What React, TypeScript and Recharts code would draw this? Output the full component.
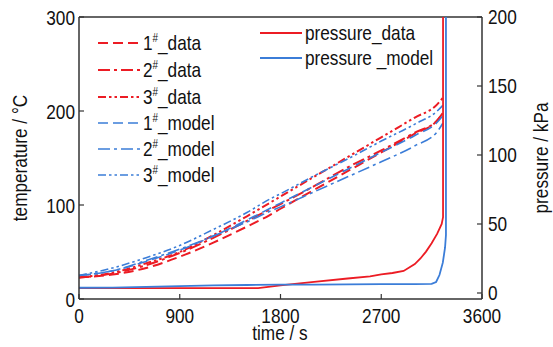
import React from "react";
import {
  LineChart,
  Line,
  XAxis,
  YAxis,
  ReferenceLine,
} from "recharts";

const FONT = '"Liberation Sans", Arial, sans-serif';
const SQUEEZE = 0.82; // the source uses a narrow face
const RED = "#ec1c24";
const BLUE = "#3b7dd8";
const AXIS = "#333";
const INK = "#111";

// temperature curves, time in s
const TEMP_TIME = [0, 300, 600, 900, 1200, 1500, 1700, 1800, 2100, 2400, 2700, 3000, 3200, 3250];
const T1_DATA = [23, 26, 33, 45, 60, 77, 89, 96, 116, 136, 156, 176, 190, 198];
const T2_DATA = [23, 27, 36, 49, 65, 83, 95, 101, 120, 140, 158, 177, 190, 198];
const T3_DATA = [23, 28, 38, 50, 68, 88, 102, 109, 130, 151, 172, 193, 207, 214];
const T1_MODEL = [25, 30, 40, 52, 67, 84, 96, 102, 120, 138, 156, 174, 188, 195];
const T2_MODEL = [25, 30, 41, 53, 67, 82, 93, 98, 114, 130, 146, 163, 178, 187];
const T3_MODEL = [25, 33, 44, 57, 74, 92, 106, 112, 131, 149, 168, 186, 200, 206];

// pressure curves (kPa)
const P_DATA_TIME = [0, 1600, 1800, 2100, 2400, 2600, 2700, 2800, 2900, 3000, 3050, 3100, 3150, 3200, 3240, 3252, 3252];
const P_DATA = [3.6, 3.6, 5.5, 8, 10.5, 12, 13.5, 14.5, 16, 21, 25, 30, 36, 43, 50, 55, 215];
const P_MODEL_TIME = [0, 300, 600, 900, 1200, 1500, 1800, 2100, 2400, 2700, 3000, 3150, 3190, 3220, 3250, 3270, 3278, 3278];
const P_MODEL = [3.8, 3.9, 4.4, 5, 5.5, 5.8, 6, 6.1, 6.2, 6.4, 6.5, 6.6, 8, 13, 22, 33, 42, 215];

const X_TICKS = [0, 900, 1800, 2700, 3600];
const T_TICKS = [0, 100, 200, 300];
const P_TICKS = [0, 50, 100, 150, 200];

const zip = (t: number[], v: number[]) => t.map((x, i) => ({ t: x, v: v[i] }));

const DASH = {
  one: "10 5",
  two: "12 4 3 4",
  three: "8 3 2.5 3 2.5 3",
};

const tempSeries = [
  { name: "1", kind: "data", values: T1_DATA, color: RED, dash: DASH.one, width: 2 },
  { name: "2", kind: "data", values: T2_DATA, color: RED, dash: DASH.two, width: 2 },
  { name: "3", kind: "data", values: T3_DATA, color: RED, dash: DASH.three, width: 2 },
  { name: "1", kind: "model", values: T1_MODEL, color: BLUE, dash: DASH.one, width: 1.6 },
  { name: "2", kind: "model", values: T2_MODEL, color: BLUE, dash: DASH.two, width: 1.6 },
  { name: "3", kind: "model", values: T3_MODEL, color: BLUE, dash: DASH.three, width: 1.6 },
];

// horizontally squeezed text around its anchor point
const Narrow = ({ x, y, rotate = 0, anchor = "start", children }: any) => (
  <text
    transform={`translate(${x} ${y}) rotate(${rotate}) scale(${SQUEEZE} 1)`}
    textAnchor={anchor}
    fontFamily={FONT}
    fontSize={21}
    fill={INK}
  >
    {children}
  </text>
);

const makeTick = (anchor: string, dy: number) => (props: any) => {
  const { x, y, payload } = props;
  return (
    <Narrow x={x} y={y + dy} anchor={anchor}>
      {payload.value}
    </Narrow>
  );
};

const LegendOverlay = () => {
  const rows = [43, 70, 97, 123, 149, 175];
  return (
    <svg
      width={553}
      height={347}
      style={{ position: "absolute", left: 0, top: 0, pointerEvents: "none" }}
    >
      {tempSeries.map((s, i) => (
        <g key={i}>
          <line
            x1={98}
            x2={140}
            y1={rows[i]}
            y2={rows[i]}
            stroke={s.color}
            strokeWidth={s.width}
            strokeDasharray={s.dash}
          />
          <Narrow x={143} y={rows[i] + 7}>
            {s.name}
            <tspan dy={-8} fontSize={12}>#</tspan>
            <tspan dy={8}>_{s.kind}</tspan>
          </Narrow>
        </g>
      ))}
      {[
        { label: "pressure_data", color: RED, y: 33 },
        { label: "pressure _model", color: BLUE, y: 58 },
      ].map((p) => (
        <g key={p.label}>
          <line x1={260} x2={302} y1={p.y} y2={p.y} stroke={p.color} strokeWidth={1.8} />
          <Narrow x={305} y={p.y + 7}>
            {p.label}
          </Narrow>
        </g>
      ))}
    </svg>
  );
};

export default function App() {
  return (
    <div style={{ position: "absolute", left: 0, top: 0, width: 553, height: 347, background: "#fff" }}>
      <LineChart
        width={553}
        height={347}
        margin={{ top: 17, right: 0, left: 0, bottom: 0 }}
      >
        <XAxis
          type="number"
          dataKey="t"
          domain={[0, 3600]}
          ticks={X_TICKS}
          height={48}
          tick={makeTick("middle", 15)}
          tickSize={-5}
          tickMargin={14}
          axisLine={{ stroke: AXIS, strokeWidth: 1.5 }}
          tickLine={{ stroke: AXIS, strokeWidth: 1.2 }}
          label={() => (
            <Narrow x={280} y={340} anchor="middle">
              time / s
            </Narrow>
          )}
        />
        <YAxis
          yAxisId="left"
          type="number"
          domain={[0, 300]}
          ticks={T_TICKS}
          width={79}
          tick={makeTick("end", 8)}
          tickSize={-5}
          tickMargin={9}
          axisLine={{ stroke: AXIS, strokeWidth: 1.5 }}
          tickLine={{ stroke: AXIS, strokeWidth: 1.2 }}
          allowDataOverflow
          label={() => (
            <Narrow x={27} y={158} rotate={-90} anchor="middle">
              temperature / °C
            </Narrow>
          )}
        />
        <YAxis
          yAxisId="right"
          orientation="right"
          type="number"
          domain={[-4.35, 200]}
          ticks={P_TICKS}
          width={71}
          tick={makeTick("start", 7)}
          tickSize={-5}
          tickMargin={11}
          axisLine={{ stroke: AXIS, strokeWidth: 1.5 }}
          tickLine={{ stroke: AXIS, strokeWidth: 1.2 }}
          allowDataOverflow
          label={() => (
            <Narrow x={548} y={158} rotate={-90} anchor="middle">
              pressure / kPa
            </Narrow>
          )}
        />
        <ReferenceLine yAxisId="left" y={300} stroke={AXIS} strokeWidth={1.5} />
        {tempSeries.map((s, i) => (
          <Line
            key={`temp-${i}`}
            yAxisId="left"
            data={zip(TEMP_TIME, s.values)}
            dataKey="v"
            type="monotone"
            stroke={s.color}
            strokeWidth={s.width}
            strokeDasharray={s.dash}
            dot={false}
            isAnimationActive={false}
          />
        ))}
        <Line
          yAxisId="right"
          data={zip(P_DATA_TIME, P_DATA)}
          dataKey="v"
          type="linear"
          stroke={RED}
          strokeWidth={1.8}
          dot={false}
          isAnimationActive={false}
        />
        <Line
          yAxisId="right"
          data={zip(P_MODEL_TIME, P_MODEL)}
          dataKey="v"
          type="linear"
          stroke={BLUE}
          strokeWidth={1.8}
          dot={false}
          isAnimationActive={false}
        />
      </LineChart>
      <LegendOverlay />
    </div>
  );
}
